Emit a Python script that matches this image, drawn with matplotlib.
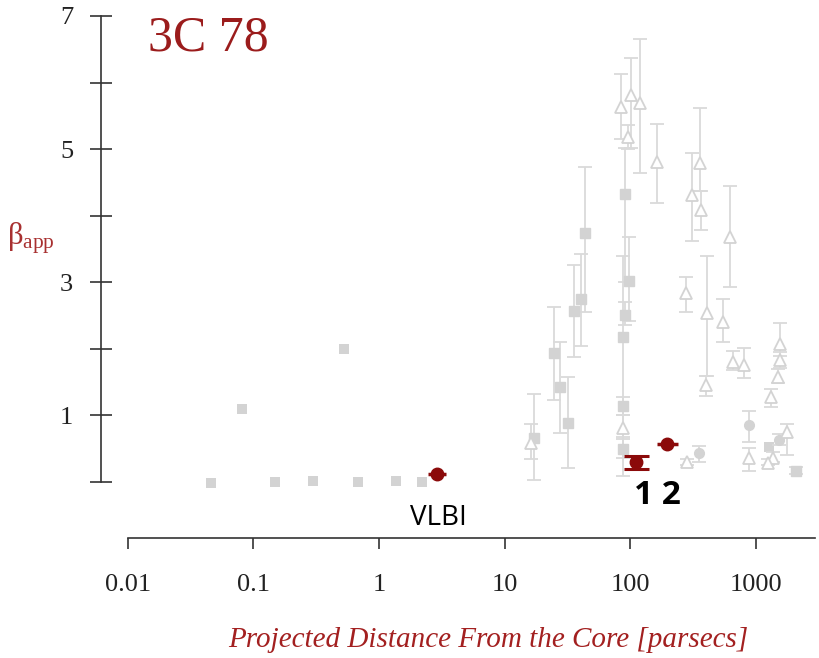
import numpy as np
import matplotlib
matplotlib.use('Agg')
import matplotlib.pyplot as plt

plt.rcParams['font.family'] = 'Liberation Serif'
plt.rcParams['mathtext.fontset'] = 'stix'

# --- data ---
# grey squares without error bars (VLBI inner jet)
sq_x = [0.046, 0.081, 0.148, 0.298, 0.526, 0.677, 1.36, 2.2, 1279]
sq_y = [-0.01, 1.10, 0.0, 0.02, 2.0, 0.0, 0.02, 0.0, 0.53]

# grey squares with error bars: x, y, low, high
sqe_x = [17.2, 24.8, 27.7, 32.1, 35.8, 40.7, 43.8, 91.2, 98.0, 91.0, 88.0, 88.0, 88.0, 2103]
sqe_y = [0.66, 1.94, 1.43, 0.89, 2.57, 2.75, 3.74, 4.32, 3.02, 2.51, 2.18, 1.14, 0.50, 0.17]
sqe_lo = [0.03, 1.23, 0.74, 0.21, 1.88, 2.04, 2.55, 3.00, 2.42, 2.36, 0.09, 1.00, 0.36, 0.12]
sqe_hi = [1.32, 2.63, 2.10, 1.58, 3.26, 3.42, 4.73, 5.02, 3.68, 2.70, 3.39, 1.28, 0.64, 0.22]

# grey filled circles
ci_x = [355, 888, 1539]
ci_y = [0.44, 0.86, 0.63]
ci_lo = [0.30, 0.60, 0.55]
ci_hi = [0.54, 1.07, 0.72]

# grey open triangles
tr_x = [16.3, 84.8, 101.9, 120, 96.4, 164, 88, 312, 361, 368, 279, 411, 403, 551,
        626, 662, 809, 888, 284, 1567, 1567, 1513, 1330, 1782, 1380, 1250]
tr_y = [0.59, 5.63, 5.81, 5.69, 5.18, 4.80, 0.81, 4.31, 4.79, 4.08, 2.84, 2.54, 1.46, 2.40,
        3.68, 1.80, 1.76, 0.36, 0.30, 2.07, 1.83, 1.58, 1.27, 0.75, 0.36, 0.29]
tr_lo = [0.35, 5.15, 5.01, 4.64, 5.00, 4.19, 0.67, 3.62, 4.37, 3.78, 2.56, 1.60, 1.29, 2.10,
         2.93, 1.68, 1.56, 0.17, 0.26, 1.90, 1.72, 1.49, 1.13, 0.41, 0.30, 0.25]
tr_hi = [0.87, 6.13, 6.37, 6.65, 5.36, 5.38, 1.00, 4.94, 5.62, 4.37, 3.08, 3.39, 1.60, 2.75,
         4.44, 1.97, 2.01, 0.51, 0.34, 2.39, 1.95, 1.70, 1.40, 0.87, 0.45, 0.35]

# red points (this work)
red_x = [2.9, 112, 197]
red_y = [0.12, 0.30, 0.57]
red_xlo = [0.46, 0, 34]
red_xhi = [0.55, 0, 42]
red_ylo = [0, 0.105, 0]
red_yhi = [0, 0.09, 0]

xticks = [0.01, 0.1, 1, 10, 100, 1000]
xticklabels = ['0.01', '0.1', '1', '10', '100', '1000']

grey = '#d3d3d3'
grey_line = '#dadada'
red = '#8b0a0a'

fig = plt.figure(figsize=(8.2, 6.58), dpi=100)
ax = fig.add_axes([0.1232, 0.1824, 0.8712, 0.7933])

ax.scatter(sq_x, sq_y, marker='s', s=52, color=grey, edgecolors='none', zorder=2)

def err(y, lo, hi):
    y = np.array(y); return [y - np.array(lo), np.array(hi) - y]

ax.errorbar(sqe_x, sqe_y, yerr=err(sqe_y, sqe_lo, sqe_hi), fmt='s', ms=7, mfc=grey, mec=grey,
            ecolor=grey_line, elinewidth=1.3, capsize=5, capthick=1.3, zorder=2)
ax.errorbar(ci_x, ci_y, yerr=err(ci_y, ci_lo, ci_hi), fmt='o', ms=7, mfc=grey, mec=grey,
            ecolor=grey_line, elinewidth=1.3, capsize=5, capthick=1.3, zorder=2)
ax.errorbar(tr_x, tr_y, yerr=err(tr_y, tr_lo, tr_hi), fmt='^', ms=8, mfc='white', mec=grey, mew=1.3,
            ecolor=grey_line, elinewidth=1.3, capsize=5, capthick=1.3, zorder=2)

ax.errorbar(red_x, red_y, xerr=[red_xlo, red_xhi], yerr=[red_ylo, red_yhi], fmt='o', ms=9,
            color=red, ecolor=red, elinewidth=2.5, capsize=0, zorder=4)
# caps on point 1 only
ax.errorbar([red_x[1]], [red_y[1]], yerr=[[red_ylo[1]], [red_yhi[1]]], fmt='none',
            ecolor=red, elinewidth=2, capsize=9, capthick=2.2, zorder=4)

ax.set_xscale('log')
ax.set_xlim(0.0061, 3000)
ax.set_ylim(-0.84, 7.0)

for s in ['top', 'right']:
    ax.spines[s].set_visible(False)
ax.spines['left'].set_bounds(0, 7)
ax.spines['bottom'].set_bounds(0.01, 3000)
for s in ['left', 'bottom']:
    ax.spines[s].set_color('#333333')
    ax.spines[s].set_linewidth(1.2)
    ax.spines[s].set_clip_on(False)

ax.set_xticks(xticks)
ax.set_xticklabels(xticklabels)
ax.xaxis.set_minor_locator(matplotlib.ticker.NullLocator())
ax.tick_params(axis='x', direction='out', length=8, width=1.2, color='#333333',
               labelsize=19, labelcolor='#222222', pad=18)

ax.set_yticks([1, 3, 5, 7])
ax.set_yticks([0, 2, 4, 6], minor=True)
ax.tick_params(axis='y', which='both', direction='inout', length=16, width=1.2, color='#333333',
               labelsize=19, labelcolor='#222222', pad=12)

fig.text(0.18, 0.942, '3C 78', fontsize=36, color='#9b1c1c', ha='left', va='center')
fig.text(0.008, 0.638, r'$\mathregular{β_{app}}$', fontsize=22, color='#a83030', ha='left', va='center')
fig.text(0.595, 0.027, 'Projected Distance From the Core [parsecs]', fontsize=21, style='italic',
         color='#a32020', ha='center', va='center')

ax.text(2.95, -0.54, 'VLBI', fontsize=20, family='Open Sans', color='black', ha='center', va='center')
ax.text(164, -0.2, '1 2', fontsize=24, family='Open Sans', weight='bold', color='black',
        ha='center', va='center')

fig.savefig('out.png', dpi=100)
